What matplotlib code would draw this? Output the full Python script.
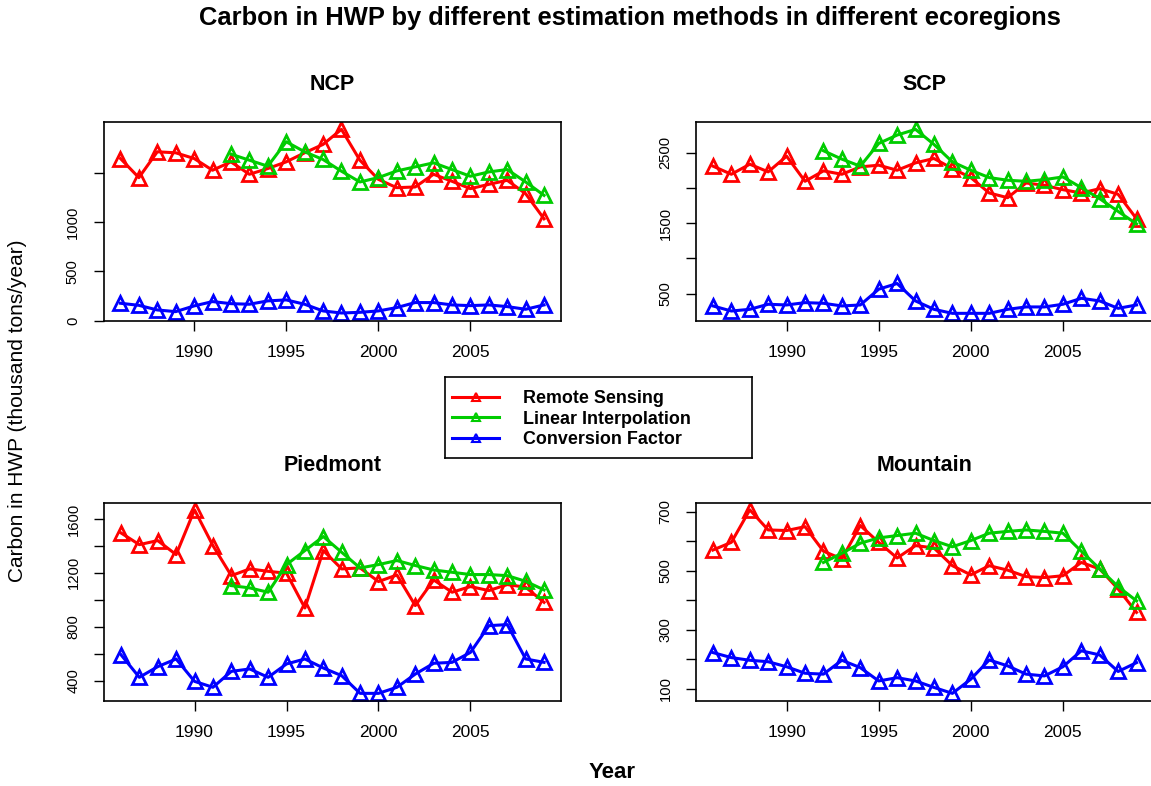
import matplotlib
matplotlib.use("Agg")
import matplotlib.pyplot as plt
from matplotlib.lines import Line2D

plt.rcParams['font.family'] = ['Liberation Sans', 'DejaVu Sans']

years = list(range(1986, 2010))
li_years = list(range(1992, 2010))

ncp_rs = [1646, 1452, 1714, 1704, 1646, 1527, 1612, 1486, 1544, 1612, 1704, 1789,
          1942, 1629, 1435, 1350, 1357, 1486, 1415, 1340, 1384, 1425, 1289, 1034]
ncp_li = [1690, 1629, 1568, 1816, 1714, 1636, 1517, 1408, 1452, 1520, 1561, 1602,
          1534, 1466, 1510, 1534, 1408, 1272]
ncp_cf = [177, 156, 109, 92, 150, 194, 173, 167, 201, 211, 167, 99,
          78, 85, 99, 133, 184, 184, 160, 153, 160, 143, 116, 160]

scp_rs = [2310, 2195, 2338, 2229, 2452, 2095, 2243, 2195, 2300, 2324, 2252, 2357,
          2419, 2276, 2148, 1929, 1862, 2071, 2038, 1976, 1929, 1990, 1910, 1562]
scp_li = [2529, 2410, 2310, 2633, 2752, 2833, 2619, 2371, 2252, 2148, 2110, 2095,
          2119, 2157, 2005, 1848, 1667, 1490]
scp_cf = [324, 252, 276, 348, 338, 371, 362, 324, 338, 562, 643, 395,
          276, 219, 219, 219, 276, 310, 310, 348, 433, 395, 290, 338]

pie_rs = [1496, 1409, 1439, 1335, 1667, 1402, 1179, 1229, 1211, 1197, 939, 1365,
          1229, 1236, 1135, 1184, 957, 1147, 1056, 1098, 1068, 1113, 1093, 981]
pie_li = [1105, 1088, 1056, 1261, 1365, 1469, 1352, 1236, 1261, 1291, 1254, 1221,
          1204, 1187, 1187, 1179, 1137, 1073]
pie_cf = [593, 425, 504, 561, 395, 351, 469, 487, 425, 524, 561, 494,
          437, 306, 306, 351, 449, 529, 536, 610, 808, 816, 561, 536]

mtn_rs = [570, 596, 706, 638, 636, 649, 566, 540, 653, 596, 543, 585,
          577, 517, 486, 517, 502, 480, 477, 483, 528, 506, 438, 359]
mtn_li = [528, 559, 593, 611, 619, 627, 602, 581, 602, 627, 633, 638,
          633, 627, 566, 506, 446, 398]
mtn_cf = [223, 206, 197, 192, 175, 153, 150, 197, 172, 127, 138, 127,
          105, 85, 133, 198, 178, 150, 144, 175, 229, 215, 159, 189]

panel_names = ["NCP", "SCP", "Piedmont", "Mountain"]
panel_data = {
    "NCP": (ncp_rs, ncp_li, ncp_cf),
    "SCP": (scp_rs, scp_li, scp_cf),
    "Piedmont": (pie_rs, pie_li, pie_cf),
    "Mountain": (mtn_rs, mtn_li, mtn_cf),
}
y_ticks = {
    "NCP": [0, 500, 1000, 1500],
    "SCP": [500, 1000, 1500, 2000, 2500],
    "Piedmont": [400, 600, 800, 1000, 1200, 1400, 1600],
    "Mountain": [100, 200, 300, 400, 500, 600, 700],
}
y_ticklabels = {
    "NCP": ["0", "500", "1000", ""],
    "SCP": ["500", "", "1500", "", "2500"],
    "Piedmont": ["400", "", "800", "", "1200", "", "1600"],
    "Mountain": ["100", "", "300", "", "500", "", "700"],
}
x_ticks = [1990, 1995, 2000, 2005]
series_labels = ["Remote Sensing", "Linear Interpolation", "Conversion Factor"]
series_colors = ["#FF0000", "#00CC00", "#0000FF"]

W, H = 1151, 786
fig = plt.figure(figsize=(W / 100, H / 100), dpi=100)

# pixel boxes: left, right, top, bottom
boxes = {
    "NCP": (103.5, 561, 122, 320.7),
    "SCP": (696, 1153.5, 122, 320.7),
    "Piedmont": (104, 561, 502.5, 700.7),
    "Mountain": (696, 1153.5, 502.5, 700.7),
}

for name in panel_names:
    l, r, t, b = boxes[name]
    ax = fig.add_axes([l / W, 1 - b / H, (r - l) / W, (b - t) / H])
    rs, li, cf = panel_data[name]
    for xs, ys, c in ((years, rs, series_colors[0]),
                      (li_years, li, series_colors[1]),
                      (years, cf, series_colors[2])):
        ax.plot(xs, ys, color=c, lw=2.2, marker='^', ms=10.5, mew=2.0,
                mfc='none', mec=c)
    allv = rs + li + cf
    lo, hi = min(allv), max(allv)
    pad = 0.04 * (hi - lo)
    ax.set_ylim(lo - pad, hi + pad)
    ax.set_xlim(1986 - 0.04 * 23, 2009 + 0.04 * 23)
    ax.set_xticks(x_ticks)
    ax.set_xticklabels([str(v) for v in x_ticks])
    ax.set_yticks(y_ticks[name])
    ax.set_yticklabels(y_ticklabels[name])
    for lbl in ax.get_yticklabels():
        lbl.set_rotation(90)
        lbl.set_va('center')
    ax.tick_params(direction='out', length=7.5, width=1.0, colors='black')
    ax.tick_params(axis='x', labelsize=12.5, pad=10)
    ax.tick_params(axis='y', labelsize=10.6, pad=9.5)
    for sp in ax.spines.values():
        sp.set_linewidth(1.2)
    ax.set_title(name, fontsize=15.5, fontweight='bold', pad=23)

# legend box
lax = fig.add_axes([445 / W, 1 - 458.3 / H, (752 - 445) / W, (458.3 - 377.3) / H])
lax.set_xticks([])
lax.set_yticks([])
for sp in lax.spines.values():
    sp.set_linewidth(1.2)
handles = [Line2D([], [], color=c, lw=2.2, marker='^', ms=5.5, mew=1.5,
                  mfc='none', mec=c) for c in series_colors]
lax.legend(handles, series_labels, loc='upper left', bbox_to_anchor=(0.0, 0.925),
           frameon=False, prop={'weight': 'bold', 'size': 12.9},
           handlelength=2.65, handletextpad=1.3, labelspacing=0.2,
           borderaxespad=0.0, borderpad=0.38)

fig.text(630 / W, 1 - 18 / H,
         "Carbon in HWP by different estimation methods in different ecoregions",
         ha='center', va='center', fontsize=18.4, fontweight='bold')
fig.text(18 / W, 1 - 411 / H, "Carbon in HWP (thousand tons/year)",
         rotation=90, ha='center', va='center', fontsize=15)
fig.text(612 / W, 1 - 773 / H, "Year", ha='center', va='center',
         fontsize=16, fontweight='bold')

fig.savefig("out.png", dpi=100)
